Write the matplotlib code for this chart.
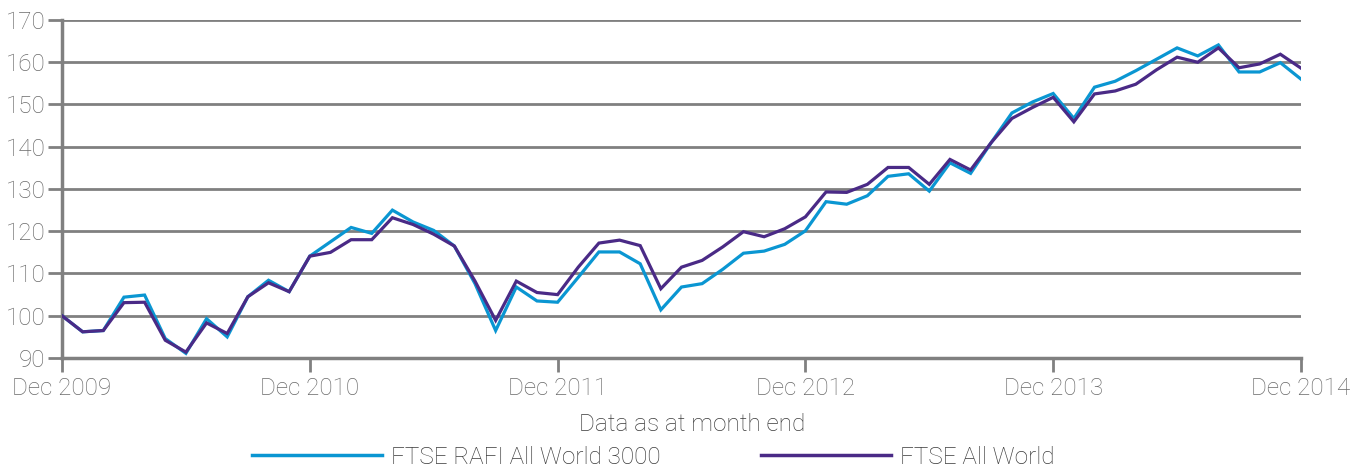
import matplotlib
matplotlib.use("Agg")
import matplotlib.pyplot as plt
import numpy as np

months = list(range(61))  # Dec 2009 .. Dec 2014, month-end
tick_pos = [0, 12, 24, 36, 48, 60]
tick_labels = ["Dec 2009", "Dec 2010", "Dec 2011", "Dec 2012", "Dec 2013", "Dec 2014"]
y_ticks = [90, 100, 110, 120, 130, 140, 150, 160, 170]

rafi = [100.0, 96.2, 96.5, 104.4, 104.9, 94.6, 91.1, 99.3, 95.0, 104.5, 108.4, 105.7,
        114.1, 117.5, 120.9, 119.5, 125.0, 122.2, 120.2, 116.5, 107.6, 96.5, 106.8, 103.5,
        103.2, 109.1, 115.1, 115.1, 112.3, 101.4, 106.8, 107.6, 111.0, 114.8, 115.3, 116.9,
        120.1, 127.0, 126.4, 128.4, 133.0, 133.6, 129.5, 136.2, 133.7, 141.0, 148.0, 150.6,
        152.6, 146.7, 154.1, 155.5, 158.0, 160.7, 163.4, 161.5, 164.1, 157.7, 157.7, 159.9,
        156.0]
allworld = [100.0, 96.2, 96.5, 103.1, 103.2, 94.2, 91.4, 98.3, 95.8, 104.5, 107.8, 105.7,
            114.1, 115.0, 118.0, 118.0, 123.2, 121.6, 119.3, 116.5, 108.2, 98.9, 108.2, 105.5,
            105.0, 111.5, 117.2, 117.9, 116.6, 106.4, 111.5, 113.1, 116.3, 119.9, 118.7, 120.6,
            123.4, 129.3, 129.2, 131.1, 135.1, 135.1, 131.1, 137.0, 134.5, 141.0, 146.7, 149.3,
            151.7, 145.9, 152.5, 153.2, 154.8, 158.2, 161.2, 160.0, 163.4, 158.7, 159.6, 161.9,
            158.6]

series_names = ["FTSE RAFI All World 3000", "FTSE All World"]
blue = "#0A96D2"
purple = "#4A2A86"
grid_c = "#808080"
text_c = "#6A6A6A"
dark_c = "#3A3A3A"
fs = 17.5

plt.rcParams['font.family'] = ['Roboto', 'DejaVu Sans']

fig = plt.figure(figsize=(13.65, 4.68), dpi=100)
ax = fig.add_axes([62/1365, 1-358/468, (1301-62)/1365, (358-20)/468])

ax.plot(months, rafi, color=blue, lw=2.3, solid_joinstyle='miter', zorder=3, label=series_names[0])
ax.plot(months, allworld, color=purple, lw=2.3, solid_joinstyle='miter', zorder=4, label=series_names[1])

ax.set_xlim(0, 60)
ax.set_ylim(90, 170)
ax.set_yticks(y_ticks)
ax.set_xticks(tick_pos)
ax.set_xticklabels(tick_labels)
ax.yaxis.grid(True, color=grid_c, lw=2.0)
ax.set_axisbelow(True)
for s in ["top", "right"]:
    ax.spines[s].set_visible(False)
ax.spines["left"].set_color(grid_c)
ax.spines["left"].set_linewidth(2.5)
ax.spines["bottom"].set_color(grid_c)
ax.spines["bottom"].set_linewidth(2.5)
ax.tick_params(axis='y', length=10, width=2, color=grid_c, labelcolor=text_c,
               labelsize=fs, pad=2)
ax.tick_params(axis='x', length=10, width=2, color=grid_c, labelcolor=text_c,
               labelsize=fs, pad=4)
for lbl in ax.get_xticklabels() + ax.get_yticklabels():
    lbl.set_fontweight('light')
ax.set_xlabel("Data as at month end", fontsize=fs, color=dark_c, fontweight='light', labelpad=9)
ax.xaxis.label.set_x((692 - 62) / 1239)

fpx = fs * 100 / 72
leg = fig.legend(loc='center', bbox_to_anchor=(653/1365, 1-457/468), ncol=2, frameon=False,
                 handlelength=130/fpx, handletextpad=9/fpx, columnspacing=100/fpx,
                 borderpad=0, borderaxespad=0,
                 prop={'size': fs, 'weight': 'light'})
for t in leg.get_texts():
    t.set_color(dark_c)
for h in leg.get_lines():
    h.set_linewidth(2.5)

fig.savefig("out.png", dpi=100)
